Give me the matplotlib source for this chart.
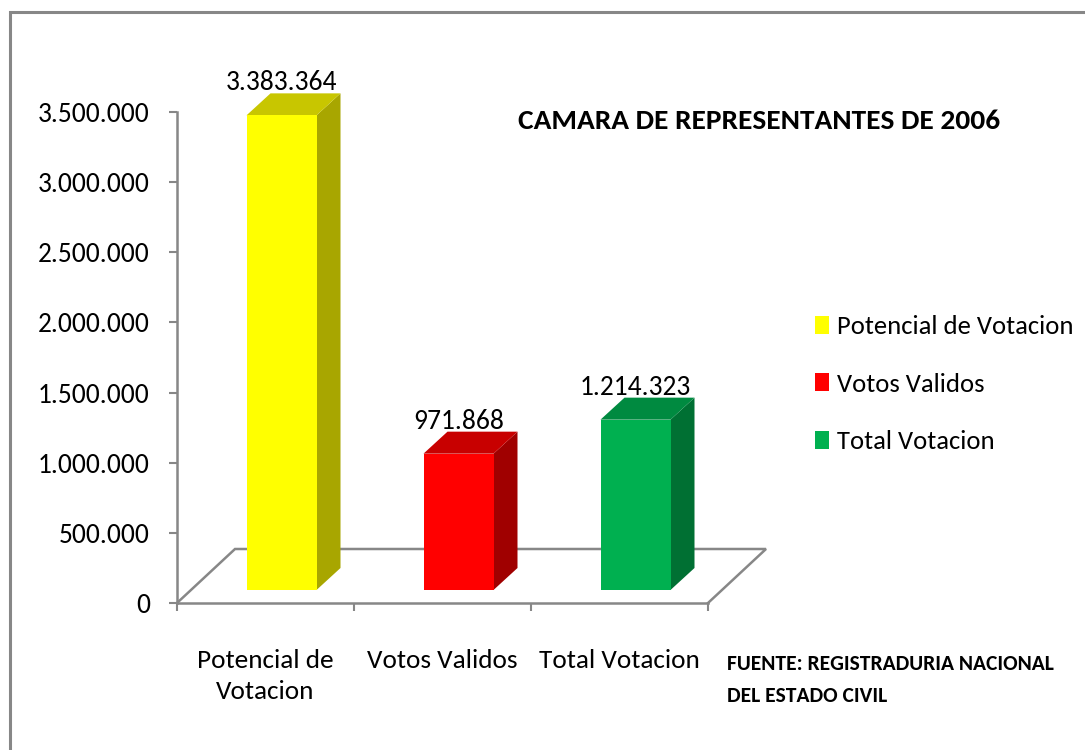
import matplotlib
matplotlib.use("Agg")
import matplotlib.pyplot as plt
from matplotlib.patches import Polygon, Patch, Rectangle
from matplotlib.ticker import FuncFormatter, FixedLocator

plt.rcParams['font.family'] = ['Carlito', 'DejaVu Sans']

categories = ["Potencial de\nVotacion", "Votos Validos", "Total Votacion"]
legend_labels = ["Potencial de Votacion", "Votos Validos", "Total Votacion"]
values = [3383364, 971868, 1214323]
front_colors = ["#FFFF00", "#FF0000", "#00B050"]
top_colors = ["#C8C600", "#C80000", "#008A40"]
side_colors = ["#A8A600", "#A00000", "#007033"]
yticks = [0, 500000, 1000000, 1500000, 2000000, 2500000, 3000000, 3500000]
title = "CAMARA DE REPRESENTANTES DE 2006"
source = "FUENTE: REGISTRADURIA NACIONAL\nDEL ESTADO CIVIL"

W, H = 1085, 750
fig = plt.figure(figsize=(W / 100, H / 100), dpi=100)
fig.patch.set_facecolor("white")

# axes = front plane of the 3D box
L, R, T, B = 177, 708, 112, 603
ax = fig.add_axes([L / W, (H - B) / H, (R - L) / W, (B - T) / H])
ax.set_xlim(-0.5, 2.5)
ax.set_ylim(0, 3500000)
ax.patch.set_alpha(0)

pxx = 3.0 / (R - L)          # data units per pixel (x)
pxy = 3500000.0 / (B - T)    # data units per pixel (y)

gray = "#878787"

# floor outline
fdx, fdy = 58 * pxx, 54 * pxy
ax.plot([-0.5, -0.5 + fdx, 2.5 + fdx, 2.5], [0, fdy, fdy, 0], color=gray,
        lw=1.8, clip_on=False, zorder=1, solid_joinstyle='miter')

# bars
bw = 70 * pxx
sx, sy = 16 * pxx, 13 * pxy
ddx, ddy = 24 * pxx, 22 * pxy
for i, (v, fc, tc, scol) in enumerate(zip(values, front_colors, top_colors, side_colors)):
    x0 = i - bw / 2 + sx
    x1 = x0 + bw
    y0 = sy
    y1 = sy + v
    side = Polygon([(x1, y0), (x1 + ddx, y0 + ddy), (x1 + ddx, y1 + ddy), (x1, y1)],
                   closed=True, facecolor=scol, edgecolor='none', clip_on=False, zorder=3)
    top = Polygon([(x0, y1), (x1, y1), (x1 + ddx, y1 + ddy), (x0 + ddx, y1 + ddy)],
                  closed=True, facecolor=tc, edgecolor='none', clip_on=False, zorder=3)
    front = Polygon([(x0, y0), (x1, y0), (x1, y1), (x0, y1)], closed=True,
                    facecolor=fc, edgecolor='none', clip_on=False, zorder=4)
    for p in (side, top, front):
        ax.add_patch(p)
    ax.text((x0 + x1) / 2, y1 + ddy + 3 * pxy, f"{v:,}".replace(",", "."),
            ha='center', va='baseline', fontsize=19.8, color='black', zorder=5)

# axes styling
for s in ("top", "right"):
    ax.spines[s].set_visible(False)
for s in ("left", "bottom"):
    ax.spines[s].set_color(gray)
    ax.spines[s].set_linewidth(1.8)

ax.yaxis.set_major_locator(FixedLocator(yticks))
ax.yaxis.set_major_formatter(FuncFormatter(lambda v, p: f"{int(v):,}".replace(",", ".")))
ax.tick_params(axis='y', direction='out', length=5.5, width=1.5, color=gray,
               labelsize=19.8, pad=14)

ax.set_xticks([-0.5, 0.5, 1.5, 2.5])
ax.set_xticklabels([])
ax.set_xticks([0, 1, 2], minor=True)
ax.set_xticklabels(categories, minor=True, fontsize=19.6, linespacing=1.45)
ax.tick_params(axis='x', which='major', direction='out', length=6, width=1.5, color=gray)
ax.tick_params(axis='x', which='minor', length=0, pad=33)

# legend
handles = [Patch(facecolor=c, edgecolor='none') for c in front_colors]
fig.legend(handles, legend_labels, loc='upper left',
           bbox_to_anchor=(815 / W, (H - 315) / H), frameon=False, fontsize=19.2,
           handlelength=0.54, handleheight=0.66, handletextpad=0.3, labelspacing=1.3,
           borderaxespad=0, borderpad=0)

# title and source
fig.text(759 / W, (H - 121) / H, title, ha='center', va='center', fontsize=21.2,
         fontweight='bold')
fig.text(727 / W, (H - 654) / H, source, ha='left', va='top', fontsize=15.5,
         fontweight='bold', linespacing=1.72)

# chart border
fig.add_artist(Rectangle((9.5 / W, -0.1), 1.2, (H - 12) / H + 0.1, transform=fig.transFigure,
                         fill=False, edgecolor=gray, lw=2.2))

fig.savefig("out.png", dpi=100, facecolor="white")
